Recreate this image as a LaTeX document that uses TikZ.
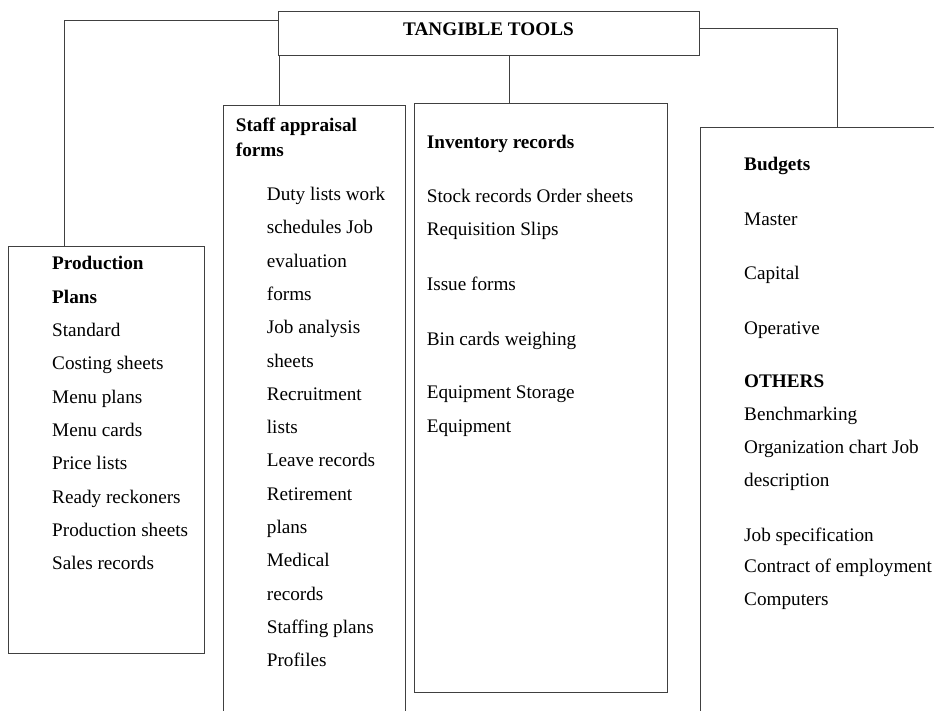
\documentclass[tikz,border=0pt]{standalone}
\usepackage{fontspec}
\setmainfont{Liberation Serif}
\begin{document}
\begin{tikzpicture}[x=1pt,y=-1pt,
  box/.style={draw=black!75, line width=1pt, rectangle, inner sep=0pt, anchor=north west},
  link/.style={draw=black!75, line width=1pt},
  txt/.style={anchor=base west, inner sep=0pt, font=\fontsize{19.2}{24}\selectfont},
  head/.style={txt, font=\fontsize{19.2}{24}\selectfont\bfseries}]
\clip (0,0) rectangle (934,711);
\fill[white] (0,0) rectangle (934,711);

% boxes
\node[box, minimum width=421pt, minimum height=44pt] (top) at (278,11) {};
\node[box, minimum width=196pt, minimum height=407pt] (prod) at (8,246) {};
\node[box, minimum width=182pt, minimum height=620pt] (staff) at (223,105) {};
\node[box, minimum width=253pt, minimum height=589pt] (inv) at (414,103) {};
\node[box, minimum width=250pt, minimum height=600pt] (budg) at (700,127) {};

% connectors
\draw[link] ([yshift=-10pt]top.north west) -| ([xshift=56pt]prod.north west);
\draw[link] ([yshift=-18pt]top.north east) -| ([xshift=137pt]budg.north west);
\draw[link] ([xshift=56pt]staff.north west) -- ([xshift=56pt]staff.north west |- top.south);
\draw[link] ([xshift=95pt]inv.north west) -- ([xshift=95pt]inv.north west |- top.south);

% title
\node[head, anchor=base] (title) at (488.5,35.6) {TANGIBLE TOOLS};

% production plans
\node[head] (p1) at (52,270) {Production};
\node[head] (p2) at (52,303.3) {Plans};
\foreach \t [count=\i from 2] in {Standard,Costing sheets,Menu plans,Menu cards,Price lists,Ready reckoners,Production sheets,Sales records}
  \node[txt] (p\i) at (52,270+33.33*\i) {\t};

% staff appraisal forms
\node[head] (s1) at (235.7,132) {Staff appraisal};
\node[head] (s2) at (235.7,156.5) {forms};
\foreach \t [count=\i from 0] in {Duty lists work,schedules Job,evaluation,forms,Job analysis,sheets,Recruitment,lists,Leave records,Retirement,plans,Medical,records,Staffing plans,Profiles}
  \node[txt] (sl\i) at (266.7,200.5+33.3*\i) {\t};

% inventory records
\node[head] (i1) at (426.7,149) {Inventory records};
\foreach \y/\t [count=\i from 2] in {202.5/Stock records Order sheets,236/Requisition Slips,290.5/Issue forms,345/Bin cards weighing,398.7/Equipment Storage,432.3/Equipment}
  \node[txt] (i\i) at (426.7,\y) {\t};

% budgets and others
\node[head] (b1) at (744,171) {Budgets};
\foreach \y/\t [count=\i from 2] in {225.5/Master,279.5/Capital,334.5/Operative}
  \node[txt] (b\i) at (744,\y) {\t};
\node[head] (o1) at (744,387) {OTHERS};
\foreach \y/\t [count=\i from 2] in {420/Benchmarking,453.3/Organization chart Job,486.5/description,541/Job specification,572/Contract of employment,605.3/Computers}
  \node[txt] (o\i) at (744,\y) {\t};
\end{tikzpicture}
\end{document}
